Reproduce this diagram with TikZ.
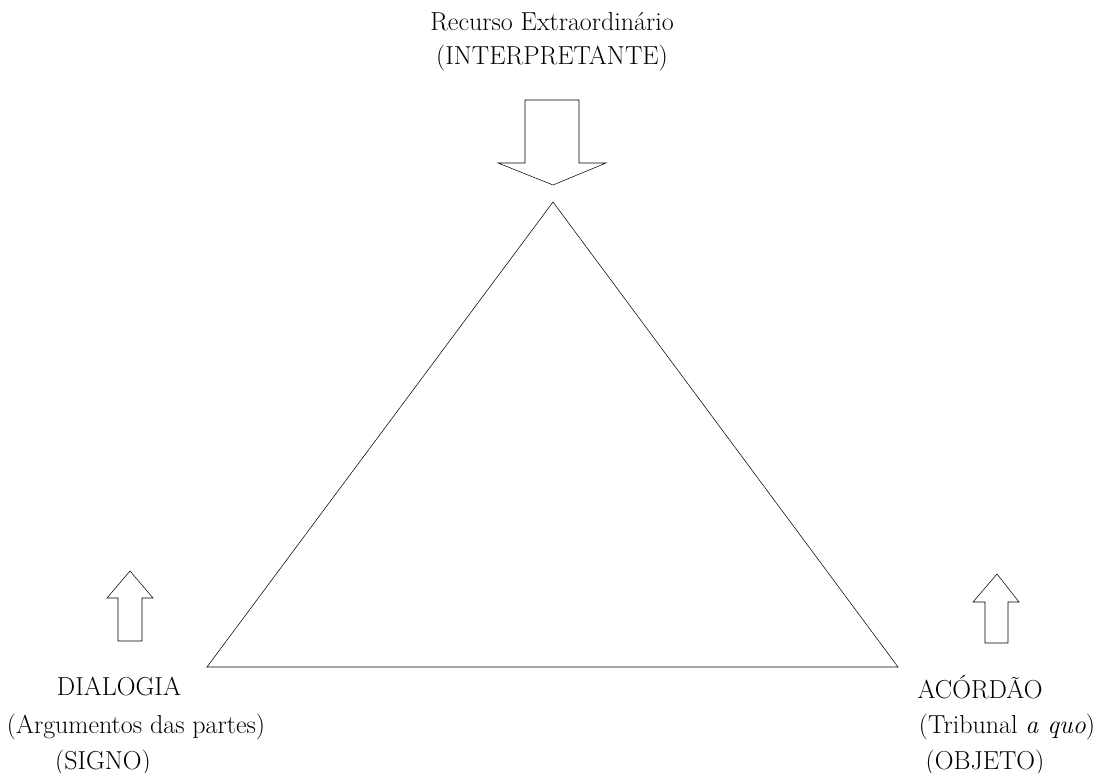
\documentclass[tikz,border=0pt]{standalone}
\usepackage{tikz}
\usetikzlibrary{positioning, calc}

\begin{document}
\begin{tikzpicture}[
    x=0.75pt, y=-0.75pt,
    label/.style={inner sep=0pt, font=\fontsize{19.5}{23}\selectfont},
    blockarrow/.style={draw, thin, fill=white, line join=miter}
]
\useasboundingbox (0,0) rectangle (1099,773);

% triangle
\coordinate (apex) at (553,202);
\coordinate (left) at (207,667);
\coordinate (right) at (898,667);
\draw[thin] (apex) -- (left) -- (right) -- cycle;

% arrows
\draw[blockarrow] (525,100) -- (579,100) -- (579,163) -- (606,163) -- (553,185)
    -- (498,163) -- (525,163) -- cycle;
\draw[blockarrow] (118,641) -- (142,641) -- (142,598) -- (153,598) -- (130,571)
    -- (107,598) -- (118,598) -- cycle;
\draw[blockarrow] (985,643) -- (1008,643) -- (1008,602) -- (1019,602) -- (997,574)
    -- (973,602) -- (985,602) -- cycle;

% labels
\node[label] (interp1) at (552,22) {Recurso Extraordinário};
\node[label] (interp2) at (552,58) {(INTERPRETANTE)};

\node[label] (signo1) at (119,687) {DIALOGIA};
\node[label] (signo2) at (136,727) {(Argumentos das partes)};
\node[label] (signo3) at (103,763) {(SIGNO)};

\node[label] (obj1) at (980,687) {ACÓRDÃO};
\node[label] (obj2) at (1007,727) {(Tribunal \textit{a quo})};
\node[label] (obj3) at (985,763) {(OBJETO)};
\end{tikzpicture}
\end{document}
